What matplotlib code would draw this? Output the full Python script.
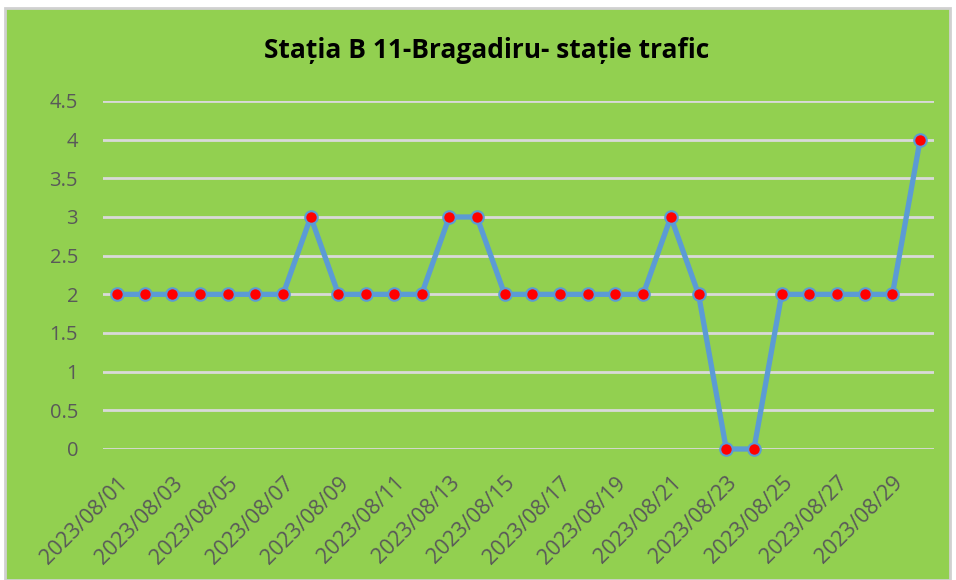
import matplotlib
matplotlib.use("Agg")
import matplotlib.pyplot as plt
from matplotlib.patches import Rectangle

dates = ["2023/08/%02d" % d for d in range(1, 31)]
values = [2, 2, 2, 2, 2, 2, 2, 3, 2, 2, 2, 2, 3, 3, 2, 2, 2, 2, 2, 2,
          3, 2, 0, 0, 2, 2, 2, 2, 2, 4]
yticks = [0, 0.5, 1, 1.5, 2, 2.5, 3, 3.5, 4, 4.5]
ytick_labels = ["0", "0.5", "1", "1.5", "2", "2.5", "3", "3.5", "4", "4.5"]
title = "Stația B 11-Bragadiru- stație trafic"

plt.rcParams['font.family'] = ['Open Sans', 'DejaVu Sans']

fig = plt.figure(figsize=(9.56, 5.8), dpi=100)
fig.patch.set_facecolor("white")
green = "#92D050"
bg = Rectangle((5/956, 0), 945/956, 1 - 8/580, transform=fig.transFigure,
               facecolor=green, edgecolor="#D0D0D0", linewidth=2, zorder=-10)
fig.add_artist(bg)

ax = fig.add_axes([103/956, 1 - 449/580, 831/956, 348/580])
ax.set_facecolor("none")
ax.set_zorder(1)
x = list(range(len(values)))
ax.plot(x, values, color="#5B9BD5", linewidth=3.8, marker="o", markersize=9,
        markerfacecolor="#FF0000", markeredgecolor="#5B9BD5", markeredgewidth=1.5,
        solid_joinstyle="round", zorder=3, clip_on=False)
ax.set_xlim(-0.5, len(values) - 0.5)
ax.set_ylim(0, 4.5)
ax.set_yticks(yticks)
ax.set_yticklabels(ytick_labels, fontsize=14.5, color="#595959")
ax.set_xticks(x[::2])
ax.set_xticklabels(dates[::2], rotation=45, ha="right", rotation_mode="anchor",
                   fontsize=15.5, color="#595959")
ax.tick_params(axis="both", length=0)
ax.tick_params(axis="x", pad=17)
ax.tick_params(axis="y", pad=18)
for s in ax.spines.values():
    s.set_visible(False)
ax.grid(axis="y", color="#D9D9D9", linewidth=2)
ax.set_axisbelow(True)

fig.text(487/956, 1 - 50/580, title, ha="center", va="center",
         fontsize=19, fontweight="bold", color="black")

fig.savefig("out.png", dpi=100, facecolor=fig.get_facecolor())
